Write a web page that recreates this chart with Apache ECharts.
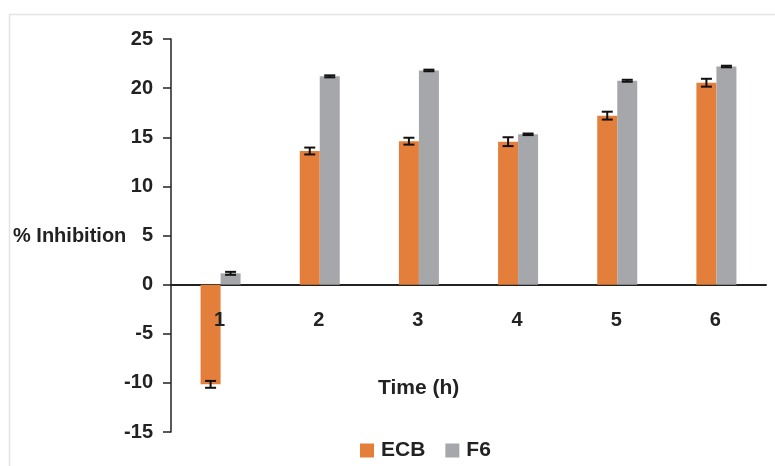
<!DOCTYPE html>
<html>
<head>
<meta charset="utf-8">
<script src="https://cdn.jsdelivr.net/npm/echarts@6/dist/echarts.min.js"></script>
<style>html,body{margin:0;padding:0;background:#fff}#c{width:775px;height:466px}</style>
</head>
<body>
<div id="c"></div>
<script>
var categories = ['1', '2', '3', '4', '5', '6'];
var ecbValues = [-10.15, 13.6, 14.6, 14.55, 17.2, 20.55];
var ecbErrors = [0.35, 0.35, 0.35, 0.45, 0.4, 0.4];
var f6Values = [1.15, 21.2, 21.8, 15.3, 20.75, 22.2];
var f6Errors = [0.15, 0.1, 0.08, 0.08, 0.1, 0.08];
var yTicks = { min: -15, max: 25, interval: 5 };

var FONT = '"Liberation Sans", Arial, sans-serif';
var BAR_W = 20;

function errData(vals, errs) {
  return vals.map(function (v, i) { return [i, v - errs[i], v + errs[i]]; });
}
function errRender(offset) {
  return function (params, api) {
    var i = api.value(0);
    var lo = api.coord([i, api.value(1)]);
    var hi = api.coord([i, api.value(2)]);
    var x = lo[0] + offset;
    var hw = 5.5;
    var st = { stroke: '#111', lineWidth: 2 };
    return {
      type: 'group',
      children: [
        { type: 'line', shape: { x1: x, y1: lo[1], x2: x, y2: hi[1] }, style: st },
        { type: 'line', shape: { x1: x - hw, y1: lo[1], x2: x + hw, y2: lo[1] }, style: st },
        { type: 'line', shape: { x1: x - hw, y1: hi[1], x2: x + hw, y2: hi[1] }, style: st }
      ]
    };
  };
}
function catLabelRender(params, api) {
  var i = api.value(0);
  var p = api.coord([i, 0]);
  return {
    type: 'text',
    style: {
      text: categories[i], x: p[0] - 1, y: p[1] + 36,
      align: 'center', verticalAlign: 'middle',
      font: 'bold 20px ' + FONT, fill: '#222'
    }
  };
}

var chart = echarts.init(document.getElementById('c'), null, { renderer: 'canvas' });
chart.setOption({
  animation: false,
  backgroundColor: '#fff',
  textStyle: { fontFamily: FONT },
  grid: { left: 171, right: 9, top: 39, bottom: 34, containLabel: false, outerBoundsMode: 'none' },
  legend: {
    left: 360, top: 440, padding: 0,
    itemWidth: 14, itemHeight: 14, itemGap: 20,
    icon: 'rect',
    textStyle: { fontFamily: FONT, fontSize: 21, fontWeight: 'bold', color: '#222', padding: [0, 0, 0, 2] },
    data: ['ECB', 'F6']
  },
  xAxis: {
    type: 'category',
    data: categories,
    axisLine: { onZero: true, lineStyle: { color: '#222', width: 2 } },
    axisTick: { show: false },
    axisLabel: { show: false },
    splitLine: { show: false }
  },
  yAxis: {
    type: 'value',
    min: yTicks.min, max: yTicks.max, interval: yTicks.interval,
    axisLine: { show: true, lineStyle: { color: '#222', width: 1.5 } },
    axisTick: { show: true, inside: false, length: 8, lineStyle: { color: '#222', width: 1.5 } },
    axisLabel: { fontFamily: FONT, fontSize: 20, fontWeight: 'bold', color: '#222', margin: 18 },
    splitLine: { show: false }
  },
  graphic: [
    { type: 'line', shape: { x1: 9, y1: 14.5, x2: 775, y2: 14.5 }, style: { stroke: '#e4e4e4', lineWidth: 1.5 } },
    { type: 'line', shape: { x1: 9.5, y1: 14, x2: 9.5, y2: 466 }, style: { stroke: '#e4e4e4', lineWidth: 1.5 } },
    { type: 'text', x: 13, y: 236, style: { text: '% Inhibition', font: 'bold 20px ' + FONT, fill: '#222', verticalAlign: 'middle' } },
    { type: 'text', x: 378, y: 388, style: { text: 'Time (h)', font: 'bold 21px ' + FONT, fill: '#222', verticalAlign: 'middle' } }
  ],
  series: [
    { name: 'ECB', type: 'bar', data: ecbValues, barWidth: BAR_W, barGap: '0%', itemStyle: { color: '#E47E3B' } },
    { name: 'F6', type: 'bar', data: f6Values, barWidth: BAR_W, barGap: '0%', itemStyle: { color: '#A5A7AA' } },
    { type: 'custom', name: 'ECB err', data: errData(ecbValues, ecbErrors), renderItem: errRender(-BAR_W / 2), z: 5, silent: true },
    { type: 'custom', name: 'F6 err', data: errData(f6Values, f6Errors), renderItem: errRender(BAR_W / 2), z: 5, silent: true },
    { type: 'custom', name: 'cat labels', data: categories.map(function (c, i) { return [i, 0]; }), renderItem: catLabelRender, z: 6, silent: true }
  ]
});
</script>
</body>
</html>
